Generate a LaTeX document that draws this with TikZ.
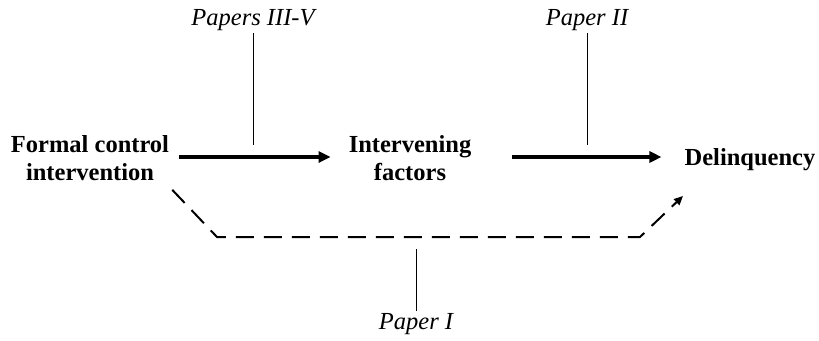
\documentclass[tikz,border=0pt]{standalone}
\usepackage{fontspec}
\setmainfont{Liberation Serif}
\usepackage{tikz}
\usetikzlibrary{positioning}
\usetikzlibrary{arrows.meta}

\begin{document}
\begin{tikzpicture}[x=1pt, y=-1pt,
stagenode/.style={align=center, font=\fontsize{24.5}{28}\selectfont\bfseries, inner sep=3pt},
papernode/.style={font=\fontsize{24.5}{28}\selectfont\itshape, inner sep=2pt},
mainarrow/.style={-{Triangle[length=12pt,width=11pt]}, line width=3.3pt},
directarrow/.style={-{Triangle[length=9pt,width=8pt]}, line width=2pt, dash pattern=on 18pt off 10pt},
tickline/.style={line width=1pt},
]
\useasboundingbox (0,0) rectangle (819,340);
%Nodes
\node[stagenode]  (fci)  at (90,158)  {Formal control\\intervention};
\node[stagenode]  (ifa)  at (410,158) {Intervening\\factors};
\node[stagenode]  (dlq)  at (750,160) {Delinquency};
\node[papernode]  (p35)  at (253,20)  {Papers III-V};
\node[papernode]  (p2)   at (587,20)  {Paper II};
\node[papernode]  (p1)   at (416,324) {Paper I};

\coordinate (t35)  at (253,145);
\coordinate (t2)   at (587,145);
\coordinate (t1)   at (416,249);
\coordinate (dl)   at (217,237);
\coordinate (dr)   at (640,237);
\coordinate (dend) at (683,196);

%Lines
\draw[mainarrow] ([xshift=7pt,yshift=1pt]fci.east) -- ([xshift=-15pt,yshift=1pt]ifa.west);
\draw[mainarrow] ([xshift=38pt,yshift=1pt]ifa.east) -- ([xshift=-20pt,yshift=3pt]dlq.west);
\draw[tickline] (p35.south) -- (t35);
\draw[tickline] (p2.south) -- (t2);
\draw[tickline] (p1.north) -- (t1);
\draw[directarrow] ([yshift=-6pt]fci.south east) -- (dl) -- (dr) -- (dend);
\end{tikzpicture}
\end{document}
